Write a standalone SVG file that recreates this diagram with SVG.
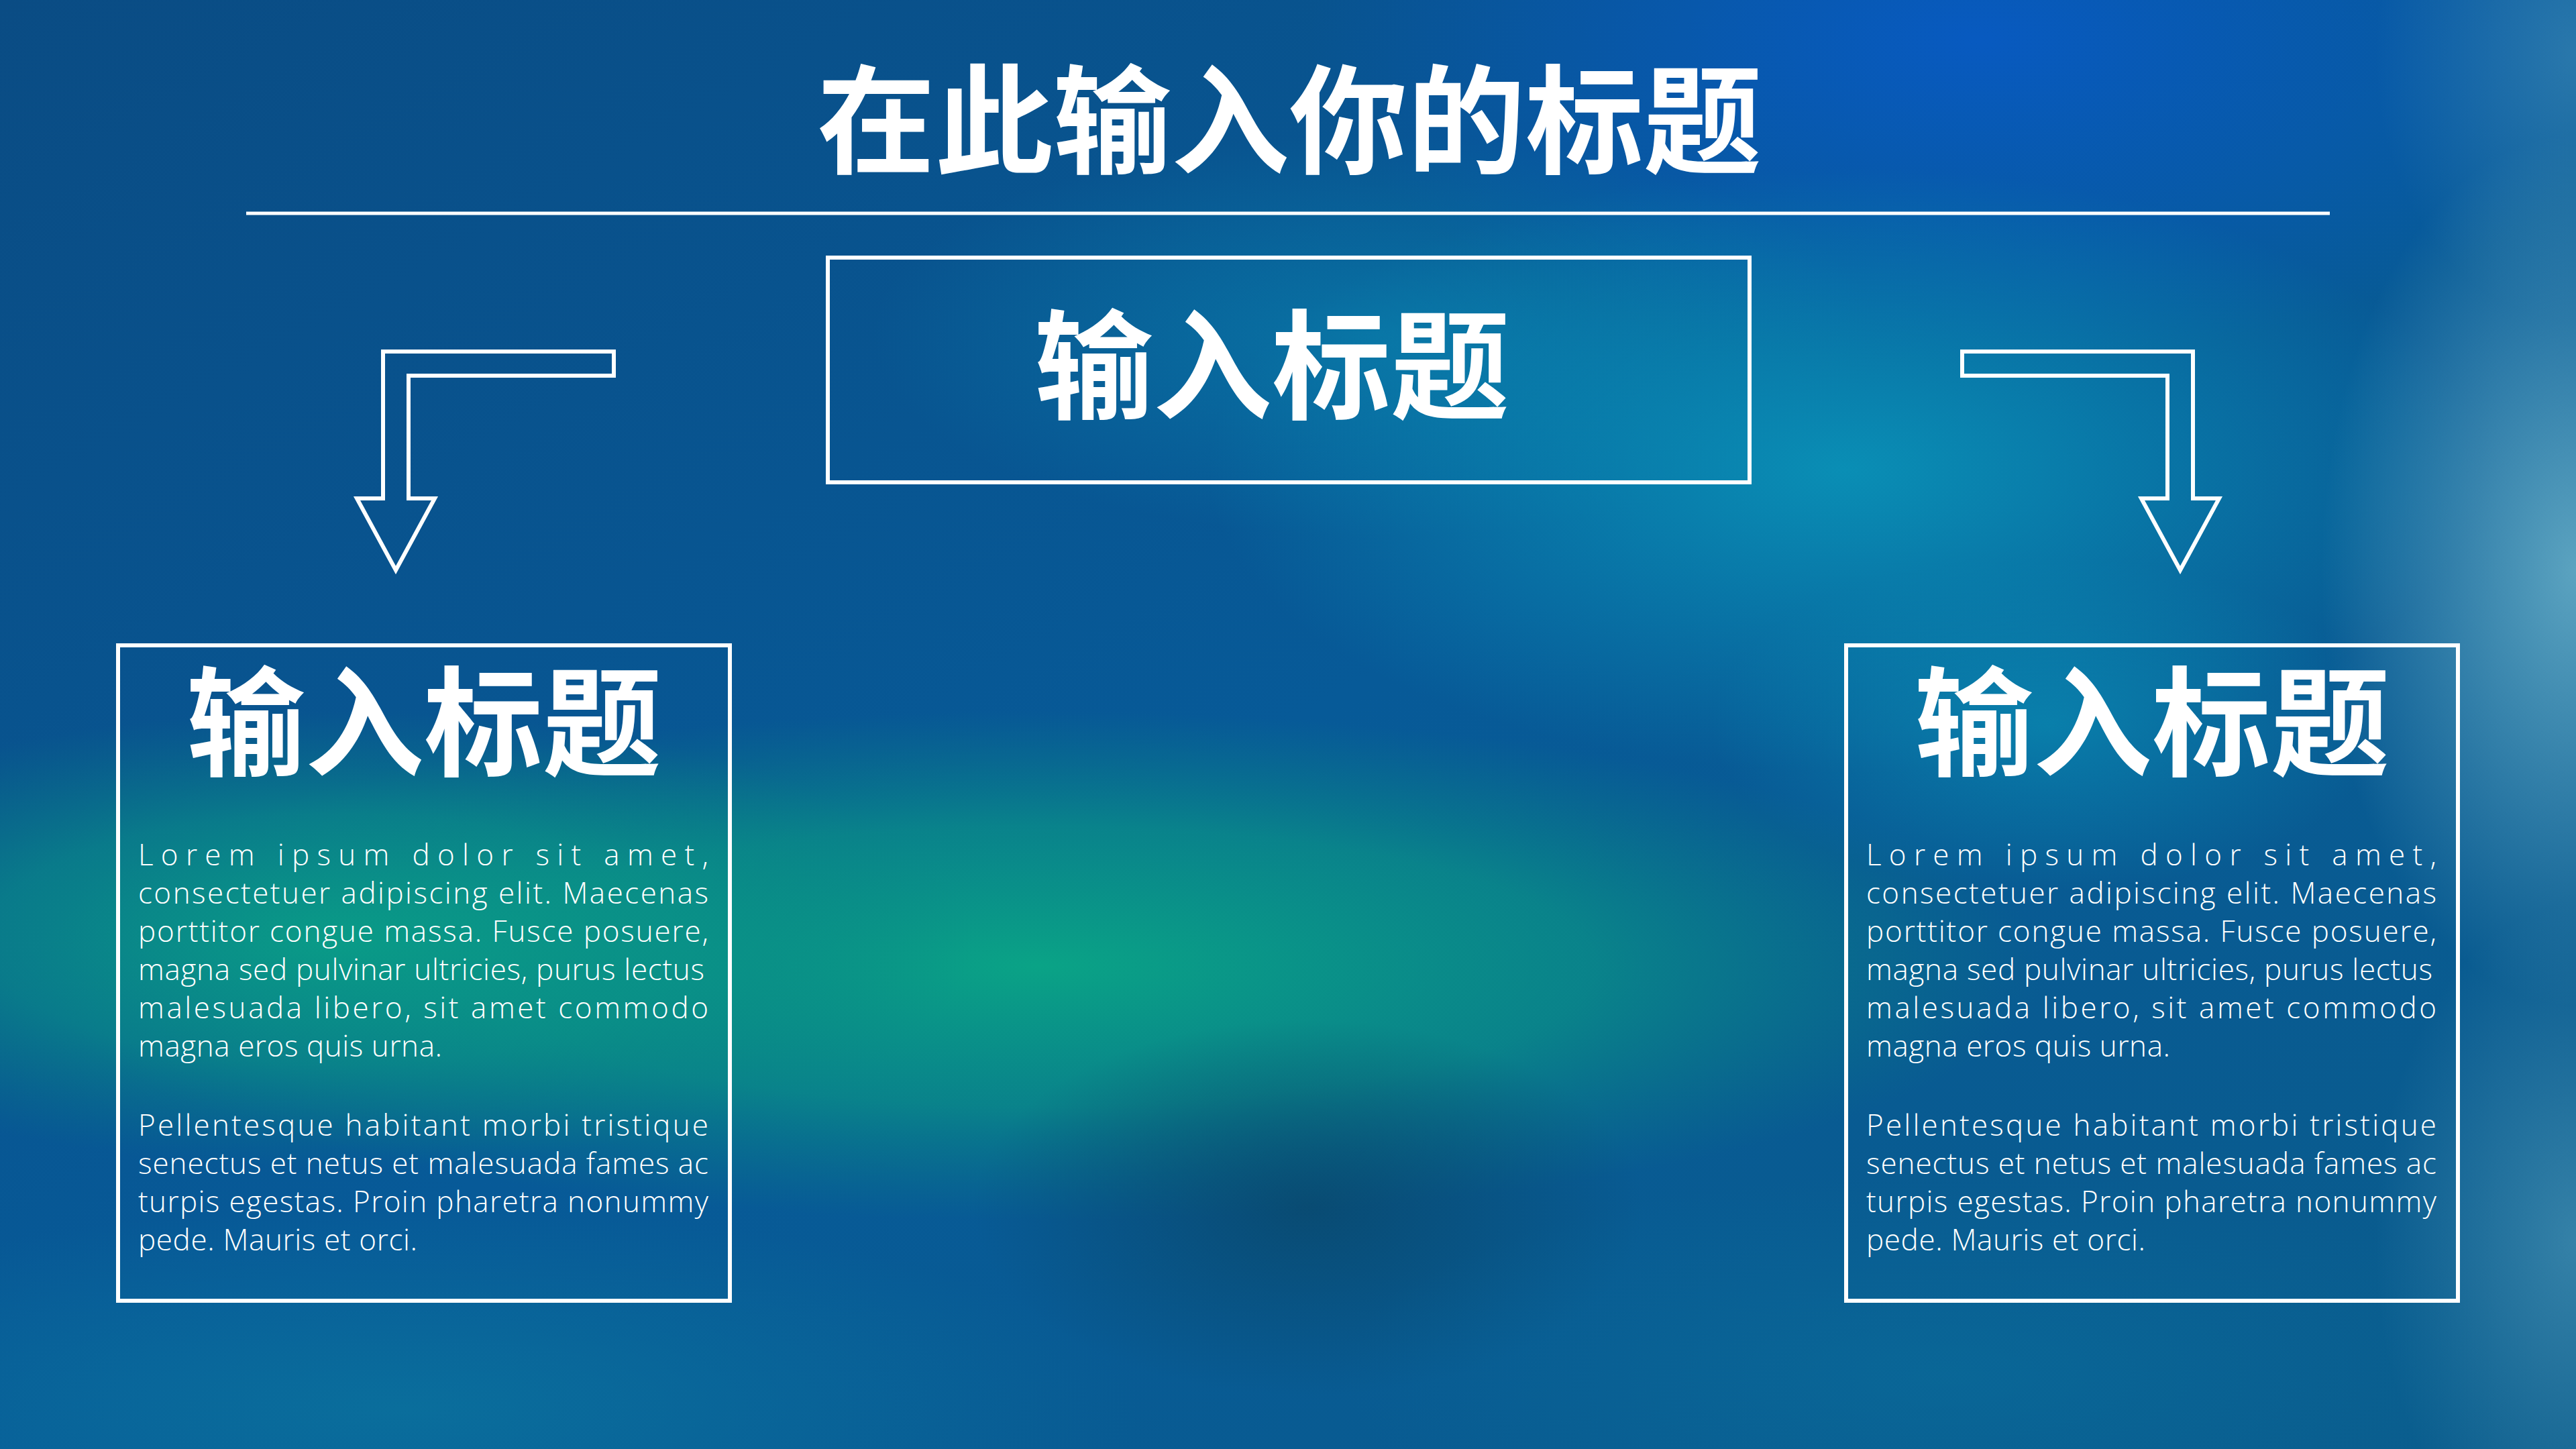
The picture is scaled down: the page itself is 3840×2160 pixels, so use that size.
<svg xmlns="http://www.w3.org/2000/svg" width="3840" height="2160" viewBox="0 0 3840 2160">
  <defs>
    <linearGradient id="base" x1="0" y1="0" x2="1" y2="1">
      <stop offset="0" stop-color="#0a4c84"/>
      <stop offset="0.5" stop-color="#075a98"/>
      <stop offset="1" stop-color="#0a5c8c"/>
    </linearGradient>
    <radialGradient id="g-green" cx="0.5" cy="0.5" r="0.5">
      <stop offset="0" stop-color="#0aa386" stop-opacity="1"/>
      <stop offset="0.55" stop-color="#0a9486" stop-opacity="0.7"/>
      <stop offset="1" stop-color="#0a8282" stop-opacity="0"/>
    </radialGradient>
    <radialGradient id="g-blue" cx="0.5" cy="0.5" r="0.5">
      <stop offset="0" stop-color="#085ac0" stop-opacity="1"/>
      <stop offset="1" stop-color="#085ac0" stop-opacity="0"/>
    </radialGradient>
    <radialGradient id="g-cyan" cx="0.5" cy="0.5" r="0.5">
      <stop offset="0" stop-color="#0a94b8" stop-opacity="1"/>
      <stop offset="1" stop-color="#0a94b8" stop-opacity="0"/>
    </radialGradient>
    <radialGradient id="g-light" cx="0.5" cy="0.5" r="0.5">
      <stop offset="0" stop-color="#6ab0c8" stop-opacity="1"/>
      <stop offset="1" stop-color="#6ab0c8" stop-opacity="0"/>
    </radialGradient>
    <radialGradient id="g-dark" cx="0.5" cy="0.5" r="0.5">
      <stop offset="0" stop-color="#094668" stop-opacity="1"/>
      <stop offset="1" stop-color="#094668" stop-opacity="0"/>
    </radialGradient>
    <radialGradient id="g-mid" cx="0.5" cy="0.5" r="0.5">
      <stop offset="0" stop-color="#0a6e9c" stop-opacity="1"/>
      <stop offset="1" stop-color="#0a6e9c" stop-opacity="0"/>
    </radialGradient>
    <style>
      .frame { fill: none; stroke: #ffffff; stroke-width: 6; }
      .arrow { fill: none; stroke: #ffffff; stroke-width: 6; stroke-linejoin: miter; }
      .cjk { font-family: "Noto Sans CJK SC", "Noto Sans CJK TC", sans-serif; font-weight: 700; fill: #ffffff; text-anchor: middle; }
      .title { font-size: 176px; }
      .head { font-size: 177px; }
      .body { font-family: "Open Sans", "Noto Sans", "Liberation Sans", sans-serif; font-weight: 350; font-size: 44px; fill: #ffffff; }
    </style>
  </defs>

  <g id="background">
    <rect x="0" y="0" width="3840" height="2160" fill="url(#base)"/>
    <ellipse cx="1550" cy="1440" rx="1500" ry="380" fill="url(#g-green)"/>
    <ellipse cx="500" cy="1400" rx="950" ry="340" fill="url(#g-green)" opacity="0.85"/>
    <ellipse cx="2950" cy="60" rx="1000" ry="480" fill="url(#g-blue)"/>
    <ellipse cx="2750" cy="700" rx="950" ry="450" fill="url(#g-cyan)" opacity="0.9"/>
    <ellipse cx="2050" cy="500" rx="750" ry="300" fill="url(#g-cyan)" opacity="0.45"/>
    <ellipse cx="3050" cy="1080" rx="500" ry="250" fill="url(#g-cyan)" opacity="0.6"/>
    <ellipse cx="3840" cy="850" rx="380" ry="650" fill="url(#g-light)" opacity="0.85"/>
    <ellipse cx="3840" cy="80" rx="300" ry="400" fill="url(#g-light)" opacity="0.35"/>
    <ellipse cx="3840" cy="1850" rx="300" ry="500" fill="url(#g-light)" opacity="0.45"/>
    <ellipse cx="1950" cy="1800" rx="500" ry="280" fill="url(#g-dark)" opacity="0.75"/>
    <ellipse cx="600" cy="2100" rx="1100" ry="300" fill="url(#g-mid)"/>
    <ellipse cx="2900" cy="2050" rx="900" ry="300" fill="url(#g-mid)" opacity="0.6"/>
  </g>

  <g id="title">
    <text class="cjk title" x="1922" y="245">在此输入你的标题</text>
    <line x1="367" y1="318" x2="3473" y2="318" stroke="#ffffff" stroke-width="5"/>
  </g>

  <g id="node-center">
    <rect class="frame" x="1234" y="384" width="1374" height="335"/>
    <text class="cjk head" x="1896" y="611">输入标题</text>
  </g>

  <g id="node-left">
    <rect class="frame" x="176" y="962" width="912" height="977"/>
    <text class="cjk head" x="632" y="1143">输入标题</text>
    <g class="body">
      <text x="206" y="1290" textLength="850" lengthAdjust="spacing">Lorem ipsum dolor sit amet,</text>
      <text x="206" y="1347" textLength="850" lengthAdjust="spacing">consectetuer adipiscing elit. Maecenas</text>
      <text x="206" y="1404" textLength="850" lengthAdjust="spacing">porttitor congue massa. Fusce posuere,</text>
      <text x="206" y="1461" textLength="844" lengthAdjust="spacing">magna sed pulvinar ultricies, purus lectus</text>
      <text x="206" y="1518" textLength="850" lengthAdjust="spacing">malesuada libero, sit amet commodo</text>
      <text x="206" y="1575" textLength="453" lengthAdjust="spacing">magna eros quis urna.</text>
      <text x="206" y="1693" textLength="850" lengthAdjust="spacing">Pellentesque habitant morbi tristique</text>
      <text x="206" y="1750" textLength="850" lengthAdjust="spacing">senectus et netus et malesuada fames ac</text>
      <text x="206" y="1807" textLength="850" lengthAdjust="spacing">turpis egestas. Proin pharetra nonummy</text>
      <text x="206" y="1864" textLength="416" lengthAdjust="spacing">pede. Mauris et orci.</text>
    </g>
  </g>

  <g id="node-right">
    <rect class="frame" x="2752" y="962" width="912" height="977"/>
    <text class="cjk head" x="3208" y="1143">输入标题</text>
    <g class="body">
      <text x="2782" y="1290" textLength="850" lengthAdjust="spacing">Lorem ipsum dolor sit amet,</text>
      <text x="2782" y="1347" textLength="850" lengthAdjust="spacing">consectetuer adipiscing elit. Maecenas</text>
      <text x="2782" y="1404" textLength="850" lengthAdjust="spacing">porttitor congue massa. Fusce posuere,</text>
      <text x="2782" y="1461" textLength="844" lengthAdjust="spacing">magna sed pulvinar ultricies, purus lectus</text>
      <text x="2782" y="1518" textLength="850" lengthAdjust="spacing">malesuada libero, sit amet commodo</text>
      <text x="2782" y="1575" textLength="453" lengthAdjust="spacing">magna eros quis urna.</text>
      <text x="2782" y="1693" textLength="850" lengthAdjust="spacing">Pellentesque habitant morbi tristique</text>
      <text x="2782" y="1750" textLength="850" lengthAdjust="spacing">senectus et netus et malesuada fames ac</text>
      <text x="2782" y="1807" textLength="850" lengthAdjust="spacing">turpis egestas. Proin pharetra nonummy</text>
      <text x="2782" y="1864" textLength="416" lengthAdjust="spacing">pede. Mauris et orci.</text>
    </g>
  </g>

  <g id="connectors">
    <path class="arrow" d="M915,524 L571,524 L571,743 L532,743 L590,850 L648,743 L609,743 L609,560 L915,560 Z"/>
    <path class="arrow" d="M2925,524 L3269,524 L3269,743 L3308,743 L3250,850 L3192,743 L3231,743 L3231,560 L2925,560 Z"/>
  </g>
</svg>
